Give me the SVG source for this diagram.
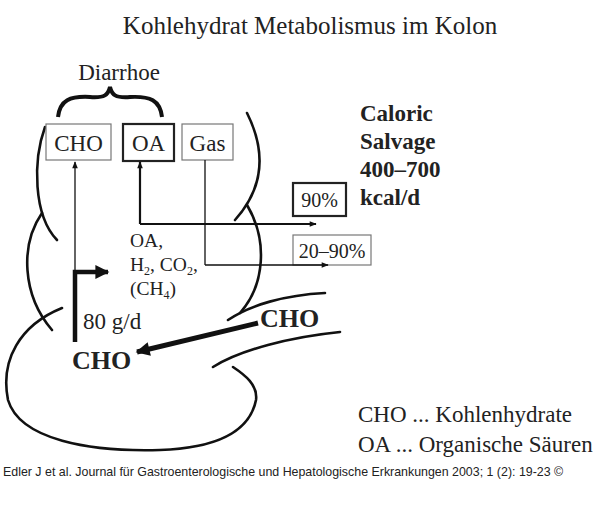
<svg xmlns="http://www.w3.org/2000/svg" width="600" height="520" viewBox="0 0 600 520">
<defs>
<style>
.s{font-family:"Liberation Serif",serif;fill:#222}
.b{font-weight:bold}
.c{fill:none;stroke:#111;stroke-width:2.6;stroke-linecap:round}
.t{fill:none;stroke:#111;stroke-width:1.3}
.bx{fill:#fff;stroke:#777;stroke-width:1.2}
</style>
<marker id="a" viewBox="0 0 10 10" refX="9" refY="5" markerWidth="9" markerHeight="7" orient="auto" markerUnits="userSpaceOnUse"><path d="M0,1L10,5L0,9z" fill="#111"/></marker>
<marker id="ab" viewBox="0 0 10 10" refX="9" refY="5" markerWidth="16" markerHeight="14" orient="auto" markerUnits="userSpaceOnUse"><path d="M0,0L10,5L0,10z" fill="#111"/></marker>
</defs>
<rect width="600" height="520" fill="#fff"/>
<text class="s" x="310" y="34" font-size="25" text-anchor="middle">Kohlehydrat Metabolismus im Kolon</text>
<g id="colon">
<path class="c" d="M45,127 C33,160 33,215 57,240"/>
<path class="c" d="M42,213 C20,245 22,295 52,330"/>
<path class="c" d="M62,308 C20,325 0,360 8,400 C20,440 90,452 160,450 C220,448 250,430 256,400 C258,385 245,375 233,367"/>
<path class="c" d="M247,113 C268,155 262,190 235,220"/>
<path class="c" d="M247,205 C268,240 265,285 240,313"/>
<path class="c" d="M228,320 C250,305 285,295 325,293"/>
<path class="c" d="M213,367 C240,350 290,337 340,332"/>
</g>
<g id="diarrhoe">
<text class="s" x="119" y="80" font-size="23" text-anchor="middle">Diarrhoe</text>
<path d="M58,117 C60,100 70,96 90,97 C105,98 108,95 110,87 C112,95 115,98 130,97 C150,96 160,100 162,117" fill="none" stroke="#111" stroke-width="4"/>
</g>
<g id="n-cho"><rect class="bx" x="46" y="124" width="65" height="36"/><text class="s" x="78.5" y="151" font-size="23" text-anchor="middle">CHO</text></g>
<g id="n-oa"><rect x="123" y="124" width="51" height="37" fill="#fff" stroke="#222" stroke-width="2.2"/><text class="s" x="148.5" y="151" font-size="23" text-anchor="middle">OA</text></g>
<g id="n-gas"><rect class="bx" x="182" y="124" width="51" height="36"/><text class="s" x="207.5" y="151" font-size="23" text-anchor="middle">Gas</text></g>
<g id="n-90"><rect x="293" y="183" width="53" height="33" fill="#fff" stroke="#222" stroke-width="2.2"/><text class="s" x="319.5" y="207" font-size="20" text-anchor="middle">90%</text></g>
<g id="n-2090"><rect class="bx" x="293" y="235" width="78" height="30"/><text class="s" x="332" y="258" font-size="20" text-anchor="middle">20–90%</text></g>
<g id="connectors">
<path class="t" d="M75,270V162" marker-end="url(#a)"/>
<path d="M140,224V162M140,224H316" fill="none" stroke="#111" stroke-width="2.2" marker-end="url(#a)"/>
<path d="M140,172V162" marker-end="url(#a)" stroke="#111"/>
<path class="t" d="M205,265V160M205,265H328" marker-end="url(#a)"/>
<path d="M75,342V272H108" fill="none" stroke="#111" stroke-width="4.5" marker-end="url(#ab)"/>
<path d="M258,323L137,352" fill="none" stroke="#111" stroke-width="5" marker-end="url(#ab)"/>
</g>
<g id="labels">
<text class="s" x="130" y="247" font-size="19.5">OA,</text>
<text class="s" x="130" y="271" font-size="19.5">H<tspan font-size="12" dy="4">2</tspan><tspan dy="-4">, CO</tspan><tspan font-size="12" dy="4">2</tspan><tspan dy="-4">,</tspan></text>
<text class="s" x="130" y="295" font-size="19.5">(CH<tspan font-size="12" dy="4">4</tspan><tspan dy="-4">)</tspan></text>
<text class="s" x="83" y="329" font-size="23">80 g/d</text>
<text class="s b" x="72" y="369" font-size="26">CHO</text>
<text class="s b" x="260" y="327" font-size="26">CHO</text>
<text class="s b" x="360" y="121" font-size="23">Caloric</text>
<text class="s b" x="360" y="149" font-size="23">Salvage</text>
<text class="s b" x="360" y="177" font-size="23">400–700</text>
<text class="s b" x="360" y="205" font-size="23">kcal/d</text>
<text class="s" x="358" y="422" font-size="23">CHO ... Kohlenhydrate</text>
<text class="s" x="358" y="452" font-size="23">OA ... Organische Säuren</text>
<text x="3" y="476" font-size="12.4" font-family="Liberation Sans,Arial,sans-serif" fill="#222">Edler J et al. Journal für Gastroenterologische und Hepatologische Erkrankungen 2003; 1 (2): 19-23 ©</text>
</g>
</svg>
